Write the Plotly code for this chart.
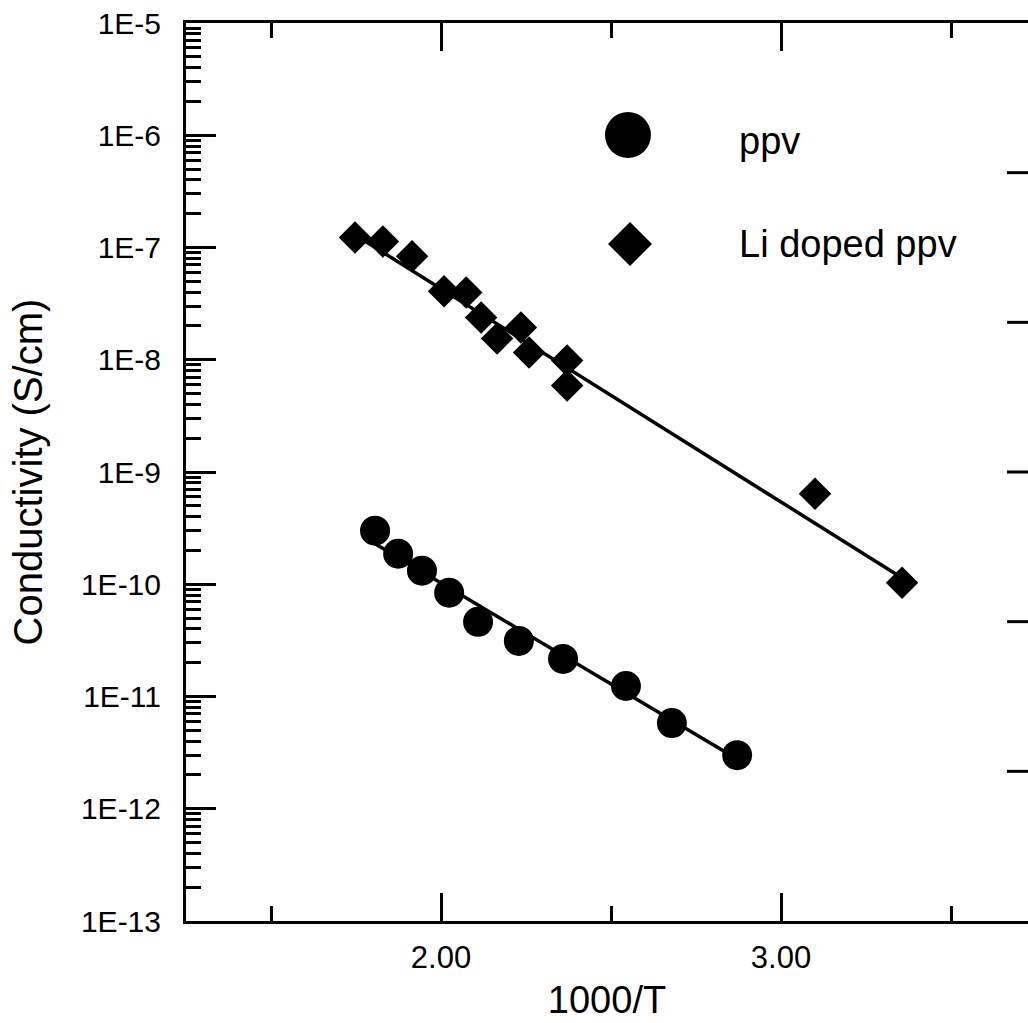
import plotly.graph_objects as go

# ---- data ----
ppv_x = [1.806, 1.874, 1.944, 2.024, 2.109, 2.229, 2.359, 2.544, 2.679, 2.871]
ppv_y = [3.0e-10, 1.87e-10, 1.32e-10, 8.4e-11, 4.63e-11, 3.13e-11, 2.16e-11, 1.24e-11, 5.8e-12, 3.0e-12]

li_x = [1.747, 1.829, 1.915, 2.009, 2.074, 2.118, 2.165, 2.235, 2.259, 2.371, 2.371, 3.100, 3.356]
li_y = [1.23e-7, 1.13e-7, 8.35e-8, 4.07e-8, 3.98e-8, 2.38e-8, 1.55e-8, 1.94e-8, 1.16e-8, 9.86e-9, 5.9e-9, 6.4e-10, 1.03e-10]

ppv_fit_x = [1.806, 2.871]
ppv_fit_y = [2.30e-10, 2.77e-12]
li_fit_x = [1.75, 3.36]
li_fit_y = [1.28e-7, 1.12e-10]

y_tickvals = [1e-13, 1e-12, 1e-11, 1e-10, 1e-9, 1e-8, 1e-7, 1e-6, 1e-5]
y_ticktext = ["1E-13", "1E-12", "1E-11", "1E-10", "1E-9", "1E-8", "1E-7", "1E-6", "1E-5"]
x_tickvals = [2.0, 3.0]
x_ticktext = ["2.00", "3.00"]
x_minor = [1.5, 2.5, 3.5]
right_tickvals = [1, 2, 3, 4, 5]   # right-hand frame ticks, 6 equal divisions

FONT = "Liberation Sans, Arial, Helvetica, sans-serif"

fig = go.Figure()
fig.add_trace(go.Scatter(x=ppv_fit_x, y=ppv_fit_y, mode="lines",
                         line=dict(color="black", width=3.5), showlegend=False))
fig.add_trace(go.Scatter(x=li_fit_x, y=li_fit_y, mode="lines",
                         line=dict(color="black", width=3.5), showlegend=False))
fig.add_trace(go.Scatter(x=ppv_x, y=ppv_y, mode="markers", name="ppv",
                         marker=dict(symbol="circle", size=30, color="black"), showlegend=False))
fig.add_trace(go.Scatter(x=li_x, y=li_y, mode="markers", name="Li doped ppv",
                         marker=dict(symbol="diamond", size=25, color="black"), showlegend=False))

fig.update_layout(
    width=1028, height=1023,
    margin=dict(l=186, r=0, t=23, b=102),
    paper_bgcolor="white", plot_bgcolor="white",
    font=dict(family=FONT, color="black"),
    xaxis=dict(
        range=[1.25, 1.25 + 842 / 340],
        tickmode="array", tickvals=x_tickvals, ticktext=x_ticktext,
        ticks="inside", ticklen=28, tickwidth=3, tickcolor="black",
        minor=dict(tickmode="array", tickvals=x_minor, ticks="inside", ticklen=15,
                   tickwidth=3, tickcolor="black", showgrid=False),
        showline=True, linewidth=3, linecolor="black", mirror="ticks",
        showgrid=False, zeroline=False, automargin=False,
        tickfont=dict(size=31, family=FONT),
        ticklabelstandoff=7,
        title=dict(text="1000/T", font=dict(size=38, family=FONT), standoff=13),
    ),
    yaxis=dict(
        type="log", range=[-13, -5],
        tickmode="array", tickvals=y_tickvals, ticktext=y_ticktext,
        ticks="inside", ticklen=30, tickwidth=3, tickcolor="black",
        minor=dict(dtick="D1", ticks="inside", ticklen=15, tickwidth=2.5,
                   tickcolor="black", showgrid=False),
        showline=True, linewidth=3, linecolor="black", mirror=False,
        showgrid=False, zeroline=False, automargin=False,
        tickfont=dict(size=30, family=FONT),
        ticklabelstandoff=16,
        title=dict(text="Conductivity (S/cm)", font=dict(size=40, family=FONT), standoff=26),
    ),
    shapes=[
        dict(type="circle", xref="paper", yref="paper",
             xsizemode="pixel", ysizemode="pixel", xanchor=0.5249, yanchor=0.8753,
             x0=-23, x1=23, y0=-23, y1=23, fillcolor="black", line=dict(width=0)),
        dict(type="path", xref="paper", yref="paper",
             xsizemode="pixel", ysizemode="pixel", xanchor=0.5273, yanchor=0.7539,
             path="M 0 22 L 22 0 L 0 -22 L -22 0 Z", fillcolor="black", line=dict(width=0)),
    ] + [
        dict(type="line", xref="paper", yref="paper",
             xsizemode="pixel", xanchor=1.0, x0=-21, x1=0,
             y0=v / 6, y1=v / 6, line=dict(color="black", width=3))
        for v in right_tickvals
    ],
    annotations=[
        dict(text="ppv", xref="paper", yref="paper", x=0.6544, y=0.8686,
             xanchor="left", yanchor="middle", showarrow=False,
             font=dict(size=38, family=FONT)),
        dict(text="Li doped ppv", xref="paper", yref="paper", x=0.6544, y=0.7539,
             xanchor="left", yanchor="middle", showarrow=False,
             font=dict(size=38, family=FONT)),
    ],
)

fig.write_html("out.html")
